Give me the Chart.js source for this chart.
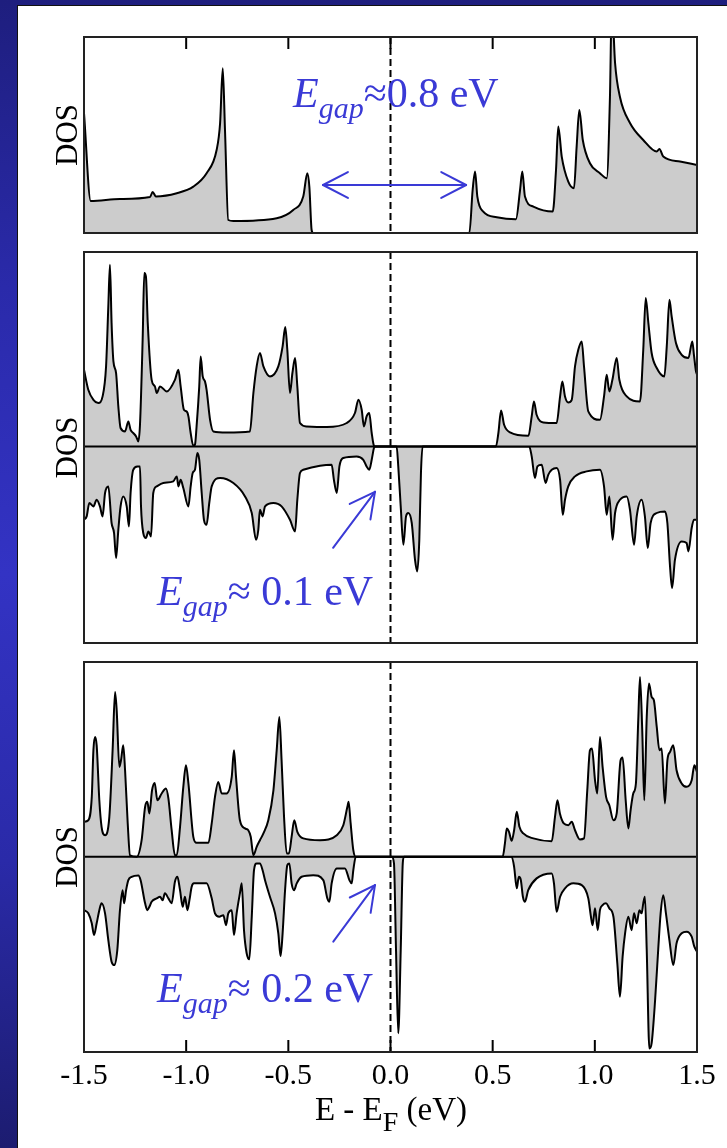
<!DOCTYPE html>
<html>
<head>
<meta charset="utf-8">
<script src="https://cdn.jsdelivr.net/npm/chart.js@4.4.1/dist/chart.umd.min.js"></script>
<style>
  html, body { margin:0; padding:0; }
  body { width:727px; height:1148px; overflow:hidden; position:relative;
    background: linear-gradient(to bottom, #1e1e7e 0%, #2a2aaa 25%, #3333c4 50%, #2a2aa8 75%, #1c1c70 100%); }
  #paper { position:absolute; left:17px; top:5px; width:710px; height:1143px; background:#fff;
    border-left:1px solid #111; border-top:1px solid #111; }
  canvas { position:absolute; left:0; }
  .ann { position:absolute; font-family:'Liberation Serif','DejaVu Serif',serif; font-size:42px; line-height:1;
    color:rgb(58,58,214); white-space:nowrap; }
  .ann .sub { font-size:30px; position:relative; top:11px; }
  #xt { position:absolute; left:191px; width:400px; top:1093px; text-align:center; font-family:'Liberation Serif','DejaVu Serif',serif;
    font-size:33px; line-height:1; color:#000; white-space:nowrap; }
  #xt .sub { font-size:28px; position:relative; top:11px; }
</style>
</head>
<body>
<div id="paper"></div>
<canvas id="c1" width="727" height="204" style="top:33px;width:727px;height:204px"></canvas>
<canvas id="c2" width="727" height="399" style="top:248px;width:727px;height:399px"></canvas>
<canvas id="c3" width="727" height="444" style="top:658px;width:727px;height:444px"></canvas>
<div class="ann" style="left:293px;top:72px"><i>E</i><span class="sub"><i>gap</i></span>≈0.8 eV</div>
<div class="ann" style="left:157px;top:570px"><i>E</i><span class="sub"><i>gap</i></span>≈ 0.1 eV</div>
<div class="ann" style="left:157px;top:967px"><i>E</i><span class="sub"><i>gap</i></span>≈ 0.2 eV</div>
<div id="xt">E - E<span class="sub">F</span> (eV)</div>
<script>
// ---------------- data (E - E_F in eV, DOS in arbitrary units) ----------------
const xTickValues = [-1.5, -1.0, -0.5, 0.0, 0.5, 1.0, 1.5];
const xTickLabels = ['-1.5', '-1.0', '-0.5', '0.0', '0.5', '1.0', '1.5'];

// Panel 1: non-magnetic DOS
const dos1 = [[-1.5,6.0],[-1.467,1.6],[-1.324,1.7],[-1.177,1.8],[-1.164,2.05],[-1.148,1.83],[-1.046,1.99],[-0.965,2.32],[-0.9,2.99],[-0.851,4.15],[-0.834,5.49],[-0.821,8.24],[-0.81,5.15],[-0.794,0.65],[-0.769,0.6],[-0.557,0.74],[-0.476,1.15],[-0.427,1.82],[-0.407,2.99],[-0.397,2.3],[-0.386,0.15],[-0.378,0],
  [0.386,0],[0.402,2.15],[0.414,3.07],[0.425,1.82],[0.454,1.07],[0.52,0.79],[0.614,0.69],[0.634,2.15],[0.645,3.07],[0.658,1.82],[0.699,1.32],[0.794,1.07],[0.81,3.15],[0.821,5.32],[0.838,3.82],[0.87,2.57],[0.898,2.24],[0.911,4.32],[0.924,6.15],[0.941,4.65],[0.976,3.49],[1.025,2.99],[1.058,2.74],[1.074,6.8],[1.083,11.5],[1.099,8.5],[1.123,6.8],[1.172,5.5],[1.237,4.65],[1.303,4.07],[1.316,4.2],[1.335,3.82],[1.417,3.57],[1.5,3.4]];

// Panel 2: spin up / spin down
const dos2Up = [[-1.5,3.83],[-1.479,2.83],[-1.454,2.33],[-1.43,2.17],[-1.409,2.5],[-1.392,4.0],[-1.381,7.0],[-1.373,9.08],[-1.365,6.17],[-1.356,4.25],[-1.343,3.67],[-1.332,2.0],[-1.321,0.92],[-1.299,0.75],[-1.283,1.25],[-1.272,0.83],[-1.259,0.67],[-1.245,0.5],[-1.234,0.25],[-1.226,1.08],[-1.213,5.33],[-1.205,8.67],[-1.197,8.5],[-1.188,6.17],[-1.169,3.33],[-1.153,3.0],[-1.144,2.67],[-1.128,3.0],[-1.095,2.75],[-1.055,3.33],[-1.038,3.83],[-1.027,3.0],[-1.011,1.83],[-0.998,1.75],[-0.989,1.5],[-0.978,0.67],[-0.965,0.03],[-0.957,0.08],[-0.949,1.0],[-0.936,3.0],[-0.929,4.5],[-0.919,3.5],[-0.908,3.25],[-0.9,2.83],[-0.883,1.33],[-0.867,0.75],[-0.802,0.7],[-0.688,0.75],[-0.671,2.67],[-0.655,4.0],[-0.639,4.67],[-0.622,4.0],[-0.59,3.5],[-0.549,4.0],[-0.528,5.0],[-0.515,5.97],[-0.505,4.83],[-0.492,2.67],[-0.48,3.67],[-0.467,4.42],[-0.456,3.0],[-0.443,1.17],[-0.41,1.0],[-0.312,0.97],[-0.214,1.17],[-0.174,1.67],[-0.157,2.33],[-0.141,1.83],[-0.13,1.0],[-0.117,1.5],[-0.104,1.67],[-0.092,0.67],[-0.081,0.03],[-0.076,0],
  [0.516,0],[0.528,0.67],[0.541,1.8],[0.556,1.08],[0.585,0.7],[0.675,0.53],[0.691,1.5],[0.702,2.25],[0.715,1.58],[0.748,1.2],[0.813,1.17],[0.83,2.5],[0.841,3.25],[0.854,2.5],[0.87,2.2],[0.887,2.33],[0.903,4.0],[0.919,4.83],[0.936,5.25],[0.947,4.0],[0.968,1.75],[1.025,1.33],[1.045,2.5],[1.058,3.58],[1.071,2.75],[1.086,3.33],[1.107,4.42],[1.12,3.33],[1.156,2.5],[1.221,2.25],[1.237,4.83],[1.249,7.42],[1.262,6.17],[1.278,4.67],[1.303,3.92],[1.34,3.5],[1.352,5.0],[1.365,7.33],[1.376,6.5],[1.397,5.17],[1.425,4.58],[1.458,4.42],[1.477,5.25],[1.485,4.58],[1.495,3.75],[1.5,3.6]];
const dos2Dn = [[-1.5,-3.67],[-1.487,-3.5],[-1.474,-2.83],[-1.454,-3.0],[-1.438,-2.67],[-1.422,-3.0],[-1.409,-3.5],[-1.397,-2.33],[-1.381,-2.0],[-1.365,-3.83],[-1.353,-4.33],[-1.343,-5.58],[-1.332,-4.17],[-1.321,-3.0],[-1.308,-2.5],[-1.291,-3.0],[-1.28,-4.0],[-1.272,-2.33],[-1.259,-1.17],[-1.239,-1.0],[-1.226,-1.0],[-1.221,-3.0],[-1.21,-4.33],[-1.197,-4.58],[-1.185,-4.25],[-1.172,-4.5],[-1.161,-2.33],[-1.144,-2.0],[-1.112,-1.83],[-1.063,-1.75],[-1.046,-1.5],[-1.038,-2.0],[-1.027,-1.67],[-1.014,-2.08],[-0.989,-3.0],[-0.978,-2.0],[-0.968,-1.33],[-0.957,-1.17],[-0.945,-0.33],[-0.936,-0.67],[-0.924,-2.33],[-0.913,-3.67],[-0.9,-3.92],[-0.887,-2.83],[-0.875,-2.0],[-0.834,-1.58],[-0.769,-1.83],[-0.712,-2.5],[-0.679,-3.33],[-0.658,-4.67],[-0.647,-4.17],[-0.639,-3.17],[-0.626,-3.5],[-0.614,-3.0],[-0.573,-2.83],[-0.533,-3.0],[-0.492,-3.67],[-0.467,-4.25],[-0.456,-2.67],[-0.443,-1.33],[-0.427,-1.17],[-0.345,-0.97],[-0.288,-0.92],[-0.277,-1.67],[-0.263,-2.33],[-0.25,-1.0],[-0.231,-0.58],[-0.166,-0.5],[-0.133,-0.67],[-0.117,-1.0],[-0.104,-1.17],[-0.092,-0.67],[-0.081,-0.08],[-0.076,0],
  [0.03,0],[0.038,-1.0],[0.05,-3.0],[0.063,-4.92],[0.076,-3.5],[0.087,-3.33],[0.104,-3.83],[0.12,-5.67],[0.131,-6.25],[0.141,-4.67],[0.149,-1.33],[0.157,0],
  [0.679,0],[0.691,-0.5],[0.707,-1.58],[0.719,-1.0],[0.74,-0.92],[0.759,-1.83],[0.772,-1.42],[0.789,-1.17],[0.813,-1.08],[0.83,-1.67],[0.843,-3.42],[0.854,-2.67],[0.87,-2.0],[0.903,-1.5],[0.96,-1.25],[1.025,-1.17],[1.045,-2.0],[1.058,-3.42],[1.071,-2.5],[1.087,-4.67],[1.099,-3.33],[1.123,-2.67],[1.156,-2.5],[1.172,-3.17],[1.192,-4.92],[1.205,-3.5],[1.229,-2.67],[1.245,-3.5],[1.259,-5.08],[1.273,-3.83],[1.303,-3.33],[1.343,-3.25],[1.355,-3.83],[1.368,-6.0],[1.378,-7.08],[1.392,-5.67],[1.425,-4.75],[1.449,-4.83],[1.458,-5.25],[1.474,-4.08],[1.485,-3.67],[1.5,-3.67]];

// Panel 3: spin up / spin down
const dos3Up = [[-1.5,1.75],[-1.479,1.83],[-1.462,3.0],[-1.454,5.33],[-1.446,6.0],[-1.438,5.58],[-1.425,2.83],[-1.414,1.5],[-1.397,1.08],[-1.376,2.0],[-1.36,5.33],[-1.348,8.25],[-1.34,7.33],[-1.327,4.5],[-1.319,4.83],[-1.308,5.58],[-1.299,4.33],[-1.286,1.67],[-1.275,0.08],[-1.242,0],[-1.218,0.83],[-1.201,2.5],[-1.19,2.75],[-1.18,2.17],[-1.167,3.33],[-1.154,3.7],[-1.141,2.83],[-1.12,3.17],[-1.099,3.42],[-1.087,2.92],[-1.071,1.33],[-1.055,0.08],[-1.046,0.08],[-1.03,1.5],[-1.014,3.5],[-1.001,4.58],[-0.989,3.67],[-0.965,1.0],[-0.949,0.7],[-0.891,0.7],[-0.875,1.67],[-0.859,3.0],[-0.843,3.75],[-0.826,3.17],[-0.802,3.17],[-0.777,4.0],[-0.766,5.33],[-0.756,4.0],[-0.737,1.83],[-0.712,1.42],[-0.696,1.33],[-0.684,1.0],[-0.671,0.08],[-0.655,0.5],[-0.639,0.83],[-0.622,1.17],[-0.598,1.83],[-0.573,3.33],[-0.557,5.33],[-0.544,7.0],[-0.533,4.83],[-0.521,2.0],[-0.508,0.17],[-0.497,0.17],[-0.484,1.0],[-0.471,1.83],[-0.456,1.25],[-0.427,0.92],[-0.345,0.83],[-0.263,1.08],[-0.231,1.58],[-0.211,2.5],[-0.205,2.75],[-0.195,1.67],[-0.182,0.33],[-0.17,0],
  [0.549,0],[0.56,0.67],[0.569,1.42],[0.58,1.25],[0.593,0.8],[0.605,1.33],[0.618,2.25],[0.631,1.5],[0.65,1.17],[0.699,0.92],[0.789,0.78],[0.805,2.0],[0.817,2.83],[0.829,2.17],[0.848,1.67],[0.87,1.58],[0.887,1.75],[0.903,1.33],[0.927,0.87],[0.947,0.92],[0.963,3.33],[0.976,5.33],[0.986,5.42],[1.001,3.83],[1.012,3.17],[1.025,6.0],[1.038,4.5],[1.055,3.0],[1.071,2.58],[1.091,1.83],[1.107,2.17],[1.126,4.83],[1.136,4.97],[1.151,2.83],[1.164,1.42],[1.175,2.33],[1.188,3.17],[1.201,3.67],[1.213,7.0],[1.221,9.0],[1.232,6.33],[1.242,2.83],[1.254,7.0],[1.265,8.67],[1.278,8.0],[1.289,7.83],[1.303,6.5],[1.316,5.33],[1.327,5.42],[1.343,2.67],[1.355,4.83],[1.368,5.25],[1.384,5.58],[1.4,4.33],[1.425,3.67],[1.449,3.5],[1.474,3.83],[1.487,4.58],[1.5,4.25]];
const dos3Dn = [[-1.5,-2.67],[-1.479,-2.83],[-1.462,-3.33],[-1.451,-3.92],[-1.438,-3.33],[-1.425,-2.67],[-1.414,-2.33],[-1.397,-2.83],[-1.381,-4.17],[-1.365,-5.25],[-1.352,-5.42],[-1.337,-4.67],[-1.324,-2.67],[-1.311,-1.67],[-1.304,-2.33],[-1.294,-1.67],[-1.283,-1.17],[-1.267,-1.0],[-1.234,-0.93],[-1.223,-1.17],[-1.201,-2.33],[-1.19,-2.67],[-1.18,-2.5],[-1.169,-2.25],[-1.144,-2.08],[-1.128,-2.0],[-1.115,-2.17],[-1.104,-1.83],[-1.087,-2.08],[-1.071,-2.33],[-1.055,-1.25],[-1.043,-1.0],[-1.03,-1.67],[-1.017,-2.5],[-1.006,-2.0],[-0.994,-2.67],[-0.984,-2.17],[-0.973,-1.5],[-0.962,-1.33],[-0.932,-1.33],[-0.9,-1.33],[-0.875,-2.08],[-0.859,-2.83],[-0.838,-3.0],[-0.818,-2.92],[-0.805,-3.42],[-0.794,-2.83],[-0.777,-2.67],[-0.766,-3.92],[-0.753,-2.83],[-0.737,-1.83],[-0.728,-1.33],[-0.717,-3.67],[-0.704,-4.83],[-0.691,-5.13],[-0.679,-3.0],[-0.668,-0.67],[-0.655,-0.33],[-0.639,-0.33],[-0.626,-0.67],[-0.614,-1.17],[-0.59,-2.0],[-0.565,-2.83],[-0.549,-3.83],[-0.538,-4.97],[-0.528,-3.83],[-0.516,-1.67],[-0.505,-0.42],[-0.495,-0.33],[-0.484,-1.33],[-0.472,-1.67],[-0.459,-1.33],[-0.435,-1.0],[-0.378,-0.92],[-0.329,-1.17],[-0.309,-2.08],[-0.299,-2.25],[-0.288,-1.33],[-0.263,-0.58],[-0.223,-0.58],[-0.201,-1.17],[-0.19,-1.33],[-0.182,-0.67],[-0.17,0],
  [0.006,0],[0.017,-0.33],[0.027,-4.67],[0.038,-8.83],[0.05,-4.67],[0.06,-0.33],[0.066,0],
  [0.593,0],[0.605,-0.5],[0.618,-1.58],[0.628,-1.0],[0.638,-1.17],[0.648,-2.0],[0.658,-2.25],[0.674,-1.67],[0.715,-1.08],[0.789,-0.83],[0.8,-1.33],[0.813,-2.75],[0.83,-2.0],[0.854,-1.58],[0.895,-1.33],[0.936,-1.42],[0.968,-2.08],[0.981,-3.0],[0.989,-3.42],[1.001,-2.58],[1.014,-3.67],[1.025,-2.67],[1.038,-2.42],[1.055,-2.33],[1.071,-2.58],[1.091,-3.0],[1.11,-5.33],[1.123,-7.0],[1.136,-5.0],[1.148,-3.83],[1.164,-3.0],[1.18,-3.67],[1.192,-2.83],[1.205,-3.33],[1.218,-2.67],[1.229,-2.83],[1.237,-2.33],[1.245,-2.0],[1.254,-4.67],[1.267,-9.6],[1.278,-9.33],[1.295,-7.17],[1.31,-4.67],[1.322,-2.83],[1.335,-1.92],[1.348,-2.83],[1.365,-4.17],[1.384,-5.42],[1.4,-4.33],[1.425,-3.83],[1.449,-3.75],[1.474,-4.0],[1.487,-4.5],[1.5,-4.75]];

// axis ranges (DOS units)
const yRange1 = [0, 9.8];
const yRange2 = [-9.83, 9.72];
const yRange3 = [-9.77, 9.75];

// gap arrows (data coordinates)
const arrow1 = { from: [-0.33, 2.4], to: [0.37, 2.4], both: true };
const arrow2 = { from: [-0.281, -5.07], to: [-0.076, -2.27], both: false };
const arrow3 = { from: [-0.28, -4.25], to: [-0.076, -1.42], both: false };

// ---------------- rendering ----------------
const SERIF = "'Liberation Serif','DejaVu Serif','Times New Roman',serif";
const BLUE = 'rgb(58,58,214)';

function line(ctx, x1, y1, x2, y2) { ctx.beginPath(); ctx.moveTo(x1, y1); ctx.lineTo(x2, y2); ctx.stroke(); }

const framePlugin = {
  id: 'frame',
  afterDatasetsDraw(chart, args, opts) {
    const { ctx, chartArea: a, scales: { x, y } } = chart;
    ctx.save();
    ctx.lineCap = 'butt';
    ctx.strokeStyle = '#000';
    ctx.lineWidth = 2;
    if (opts.zeroLine) {
      const yz = y.getPixelForValue(0);
      line(ctx, a.left, yz, a.right, yz);
    }
    const x0 = x.getPixelForValue(0);
    ctx.setLineDash([7, 4]);
    line(ctx, x0, a.top, x0, a.bottom);
    ctx.setLineDash([]);
    for (const v of xTickValues) {
      const px = x.getPixelForValue(v);
      if (opts.ticksTop) line(ctx, px, a.top, px, a.top + 12);
      if (opts.ticksBottom) line(ctx, px, a.bottom, px, a.bottom - 12);
    }
    ctx.strokeStyle = '#222';
    ctx.strokeRect(a.left, a.top, a.right - a.left, a.bottom - a.top);
    const ar = opts.arrow;
    if (ar) {
      const x1 = x.getPixelForValue(ar.from[0]), y1 = y.getPixelForValue(ar.from[1]);
      const x2 = x.getPixelForValue(ar.to[0]), y2 = y.getPixelForValue(ar.to[1]);
      ctx.strokeStyle = BLUE;
      ctx.lineWidth = 2;
      ctx.lineCap = 'round';
      line(ctx, x1, y1, x2, y2);
      const head = (tx, ty, fx, fy) => {
        const ang = Math.atan2(ty - fy, tx - fx), L = 28, h = 0.48;
        line(ctx, tx, ty, tx - L * Math.cos(ang - h), ty - L * Math.sin(ang - h));
        line(ctx, tx, ty, tx - L * Math.cos(ang + h), ty - L * Math.sin(ang + h));
      };
      head(x2, y2, x1, y1);
      if (ar.both) head(x1, y1, x2, y2);
    }
    ctx.restore();
  }
};

function ds(pairs) {
  return {
    data: pairs.map(p => ({ x: p[0], y: p[1] })),
    borderColor: '#000', borderWidth: 2, backgroundColor: '#cccccc',
    fill: 'origin', pointRadius: 0, cubicInterpolationMode: 'monotone'
  };
}

function makeChart(id, series, yRange, frameOpts, showX) {
  return new Chart(document.getElementById(id), {
    type: 'line',
    data: { datasets: series.map(ds) },
    options: {
      responsive: false, animation: false, devicePixelRatio: 1, events: [],
      layout: { padding: { left: 0, right: 30, top: 4, bottom: showX ? 0 : 4 } },
      plugins: { legend: { display: false }, tooltip: { enabled: false }, frame: frameOpts },
      scales: {
        x: {
          type: 'linear', min: -1.5, max: 1.5, display: showX,
          afterBuildTicks: s => { s.ticks = xTickValues.map(v => ({ value: v })); },
          afterFit: s => { if (showX) s.height = 50; },
          grid: { display: false, drawTicks: false }, border: { display: false },
          ticks: { color: '#000', font: { family: SERIF, size: 30 }, padding: 6, maxRotation: 0, autoSkip: false,
            callback: (v, i) => xTickLabels[i] }
        },
        y: {
          min: yRange[0], max: yRange[1],
          afterFit: s => { s.width = 84; },
          grid: { display: false, drawTicks: false }, border: { display: false },
          ticks: { display: false },
          title: { display: true, text: 'DOS', color: '#000', font: { family: SERIF, size: 31 }, padding: { top: 50, bottom: 0 } }
        }
      }
    },
    plugins: [framePlugin]
  });
}

makeChart('c1', [dos1], yRange1, { zeroLine: false, ticksTop: true, ticksBottom: false, arrow: arrow1 }, false);
makeChart('c2', [dos2Up, dos2Dn], yRange2, { zeroLine: true, ticksTop: false, ticksBottom: false, arrow: arrow2 }, false);
makeChart('c3', [dos3Up, dos3Dn], yRange3, { zeroLine: true, ticksTop: false, ticksBottom: true, arrow: arrow3 }, true);
</script>
</body>
</html>
